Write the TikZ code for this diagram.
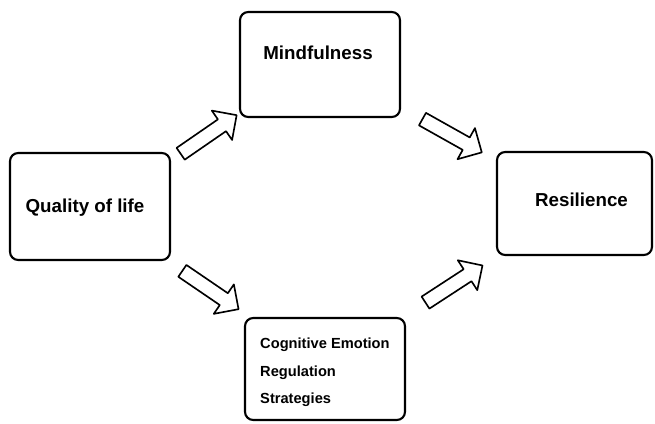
\documentclass[tikz,border=0pt]{standalone}
\usepackage{fontspec}
\setmainfont{Liberation Sans}
\usetikzlibrary{shapes.arrows}

\begin{document}
\begin{tikzpicture}[x=0.03cm,y=-0.03cm,line join=round,
	box/.style={draw,line width=1.8pt,rounded corners=7pt,minimum width=4.8cm,minimum height=3.15cm},
	lbl/.style={font=\bfseries\fontsize{16}{19}\selectfont,inner sep=0pt},
	blockarrow/.style={single arrow,draw,line width=1.4pt,inner xsep=0pt,inner ysep=0.19cm,
		single arrow head extend=0.32cm,minimum height=2.04cm}]
		\useasboundingbox (0,0) rectangle (655,423);
		% boxes
		\node[box,minimum height=3.21cm] (qol) at (90,206.5) {};
		\node[box] (mind) at (320,64.5) {};
		\node[box,minimum width=4.65cm,minimum height=3.09cm] (res) at (574.5,203.5) {};
		\node[box,minimum height=3.06cm] (cers) at (325,369) {};
		% texts
		\node[lbl] (qoltext) at (85,208) {Quality of life};
		\node[lbl] (mindtext) at (318,53) {Mindfulness};
		\node[lbl] (restext) at (581.5,200) {Resilience};
		\node[lbl,font=\bfseries\fontsize{12.5}{23.4}\selectfont,align=left,anchor=north west] (cerstext) at (260,338) {Cognitive Emotion\\Regulation\\Strategies};
		% arrows
		\node[blockarrow,rotate=34.6] (qolmind) at (205.7,136.5) {};
		\node[blockarrow,rotate=-29.3] (mindres) at (449,134) {};
		\node[blockarrow,rotate=-34.3] (qolcers) at (207.5,288) {};
		\node[blockarrow,rotate=33.1] (cersres) at (451,286) {};
\end{tikzpicture}
\end{document}
